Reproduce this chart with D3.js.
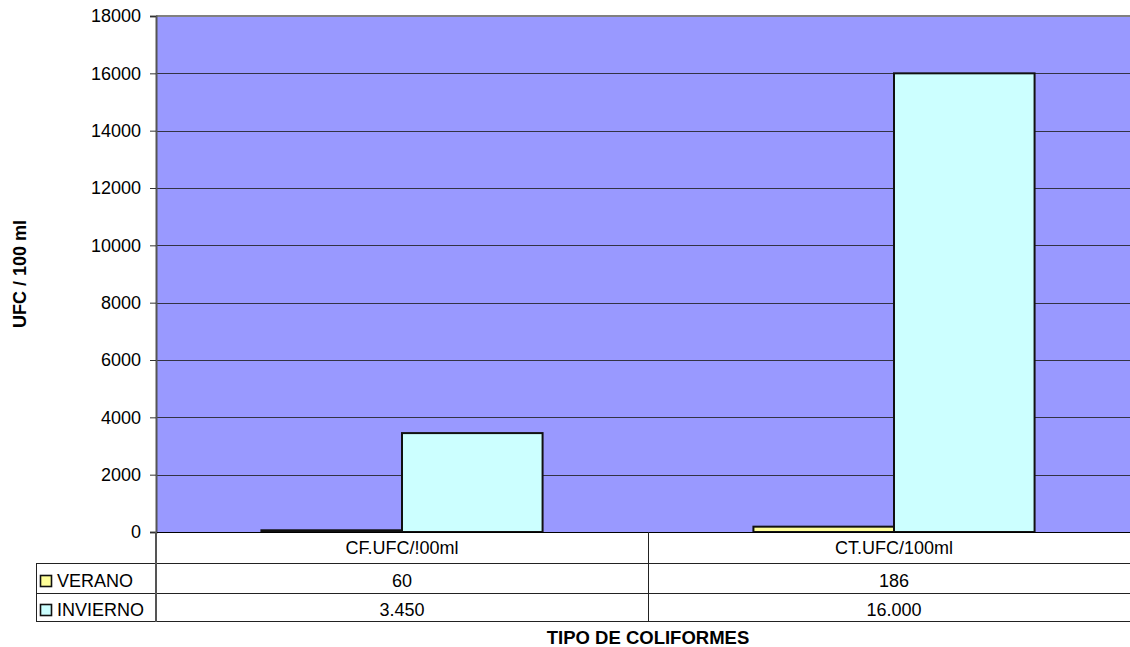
<!DOCTYPE html>
<html>
<head>
<meta charset="utf-8">
<script src="https://cdn.jsdelivr.net/npm/d3@7"></script>
<style>
  html, body { margin: 0; padding: 0; background: #fff; }
  svg { display: block; font-family: "Liberation Sans", Arial, sans-serif; }
</style>
</head>
<body>
<svg id="chart" width="1130" height="647"></svg>
<script>
// Coliform counts per sampling season
const categories = ["CF.UFC/!00ml", "CT.UFC/100ml"];
const seriesNames = ["VERANO", "INVIERNO"];
const verano = [60, 186];
const invierno = [3450, 16000];
const verano_labels = ["60", "186"];
const invierno_labels = ["3.450", "16.000"];
const yTicks = [0, 2000, 4000, 6000, 8000, 10000, 12000, 14000, 16000, 18000];
const seriesColors = ["#FFFF99", "#CCFFFF"];

const FS = 18;
const svg = d3.select("#chart");
const plot = { left: 156, right: 1140, top: 16, bottom: 532 };

const x = d3.scaleBand().domain(categories).range([plot.left, plot.right]).paddingInner(0).paddingOuter(0);
const y = d3.scaleLinear().domain([0, 18000]).range([plot.bottom, plot.top]);

const inner = d3.scaleBand().domain(seriesNames).range([0, x.bandwidth()]).paddingInner(0).paddingOuter(0.75);

// plot background
svg.append("rect")
  .attr("x", plot.left).attr("y", plot.top)
  .attr("width", plot.right - plot.left).attr("height", plot.bottom - plot.top)
  .attr("fill", "#9999FF");

// gridlines
svg.append("g").selectAll("line")
  .data(yTicks.filter(d => d > 0 && d < 18000))
  .join("line")
  .attr("x1", plot.left).attr("x2", plot.right)
  .attr("y1", d => Math.round(y(d)) + 0.5).attr("y2", d => Math.round(y(d)) + 0.5)
  .attr("stroke", "#333344").attr("stroke-width", 1);

// top border
svg.append("line")
  .attr("x1", plot.left).attr("x2", plot.right)
  .attr("y1", plot.top).attr("y2", plot.top)
  .attr("stroke", "#808080").attr("stroke-width", 2);

// bars
const data = [verano, invierno];
const g = svg.append("g");
seriesNames.forEach((s, si) => {
  g.selectAll(null)
    .data(categories)
    .join("rect")
    .attr("x", c => x(c) + inner(s))
    .attr("y", (c, i) => y(data[si][i]))
    .attr("width", inner.bandwidth())
    .attr("height", (c, i) => y(0) - y(data[si][i]))
    .attr("fill", seriesColors[si])
    .attr("stroke", "#111")
    .attr("stroke-width", 2);
});

// y axis
const yAxis = d3.axisLeft(y).tickValues(yTicks).tickSize(6).tickPadding(9).tickFormat(d3.format("d"));
const ya = svg.append("g").attr("transform", `translate(${plot.left},0)`).call(yAxis);
ya.select(".domain").attr("stroke", "#555").attr("stroke-width", 2);
ya.selectAll(".tick line").attr("stroke", "#333");
ya.selectAll(".tick text").attr("font-size", FS).attr("fill", "#000")
  .attr("font-family", "'Liberation Sans', Arial, sans-serif");

// baseline
svg.append("line")
  .attr("x1", plot.left).attr("x2", plot.right)
  .attr("y1", plot.bottom + 0.5).attr("y2", plot.bottom + 0.5)
  .attr("stroke", "#000").attr("stroke-width", 1);

// data table
const rows = [563, 593, 621];
const tableLeft = 36;
const tbl = svg.append("g").attr("stroke", "#222").attr("stroke-width", 1);
rows.forEach(r => {
  tbl.append("line").attr("x1", tableLeft).attr("x2", 1130)
    .attr("y1", r + 0.5).attr("y2", r + 0.5);
});
tbl.append("line").attr("x1", tableLeft + 0.5).attr("x2", tableLeft + 0.5)
  .attr("y1", rows[0]).attr("y2", rows[2] + 1);
tbl.append("line").attr("x1", plot.left).attr("x2", plot.left)
  .attr("y1", plot.bottom).attr("y2", rows[2] + 1)
  .attr("stroke", "#555").attr("stroke-width", 2);
categories.slice(1).forEach(c => {
  tbl.append("line").attr("x1", Math.round(x(c)) + 0.5).attr("x2", Math.round(x(c)) + 0.5)
    .attr("y1", plot.bottom).attr("y2", rows[2] + 1);
});

const txt = svg.append("g").attr("font-size", FS).attr("fill", "#000");
// category labels
txt.selectAll(null).data(categories).join("text")
  .attr("x", c => x(c) + x.bandwidth() / 2)
  .attr("y", 554)
  .attr("text-anchor", "middle")
  .text(c => c);

const labels = [verano_labels, invierno_labels];
seriesNames.forEach((s, si) => {
  const top = rows[si];
  const base = top + (si === 0 ? 24 : 23);
  txt.append("rect")
    .attr("x", 40.5).attr("y", top + 12 - si + 0.5)
    .attr("width", 11).attr("height", 11)
    .attr("fill", seriesColors[si]).attr("stroke", "#111").attr("stroke-width", 1.6);
  txt.append("text").attr("x", 57).attr("y", base).text(s);
  txt.selectAll(null).data(categories).join("text")
    .attr("x", c => x(c) + x.bandwidth() / 2)
    .attr("y", base)
    .attr("text-anchor", "middle")
    .text((c, i) => labels[si][i]);
});

// axis titles
svg.append("text")
  .attr("x", (plot.left + plot.right) / 2).attr("y", 644)
  .attr("text-anchor", "middle").attr("font-size", 18.5).attr("font-weight", "bold")
  .text("TIPO DE COLIFORMES");
svg.append("text")
  .attr("transform", `translate(26,${(plot.top + plot.bottom) / 2}) rotate(-90)`)
  .attr("text-anchor", "middle").attr("font-size", FS).attr("font-weight", "bold")
  .text("UFC / 100 ml");
</script>
</body>
</html>
